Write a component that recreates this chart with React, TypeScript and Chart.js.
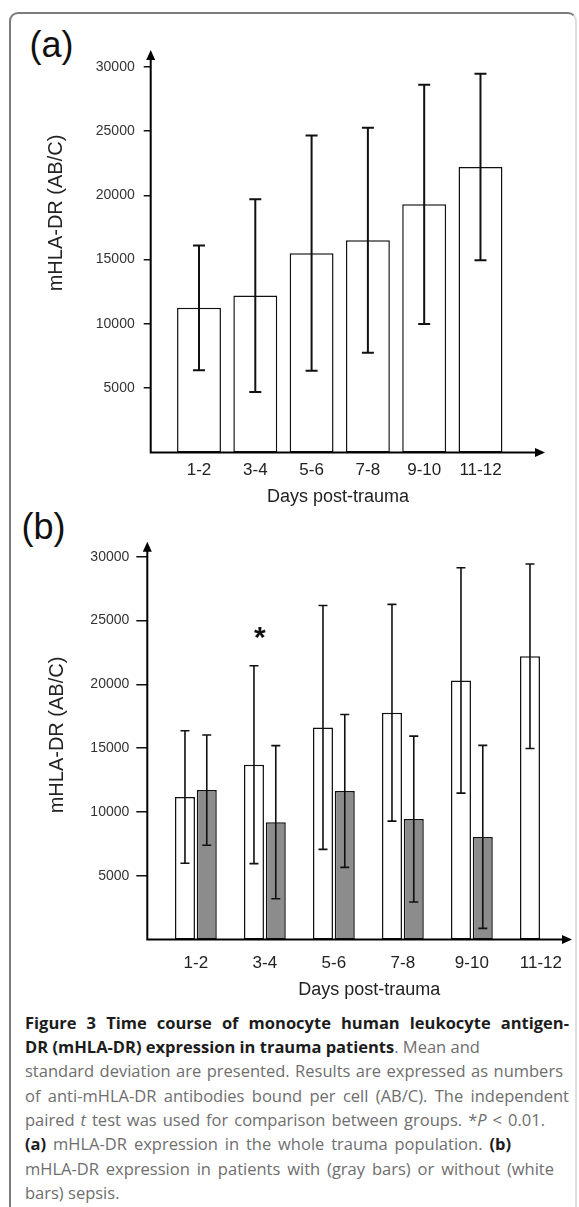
import React, { useEffect, useRef } from 'react';
import { Chart, registerables } from 'chart.js';

Chart.register(...registerables);

// ---------- data ----------
const categories = ['1-2', '3-4', '5-6', '7-8', '9-10', '11-12'];
// (a) whole trauma population: mean and SD
const allMean = [11250, 12200, 15500, 16500, 19300, 22200];
const allSd = [4850, 7500, 9150, 8750, 9300, 7250];
// (b) patients without sepsis (white bars)
const noSepsisMean = [11170, 13700, 16620, 17770, 20300, 22200];
const noSepsisSd = [5190, 7750, 9560, 8490, 8830, 7230];
// (b) patients with sepsis (gray bars)
const sepsisMean = [11710, 9190, 11640, 9440, 8040, null];
const sepsisSd = [4320, 6000, 5990, 6500, 7170, null];
// *P < 0.01 markers
const significant = [false, true, false, false, false, false];
const yTickValues = [5000, 10000, 15000, 20000, 25000, 30000];
const xTitle = 'Days post-trauma';
const yTitle = 'mHLA-DR (AB/C)';

const SANS = '"Liberation Sans", Arial, Helvetica, sans-serif';
const CAPTION_FONT = '"Open Sans", "Noto Sans", sans-serif';

const decor = {
  id: 'decor',
  afterDatasetsDraw(chart: any, _args: any, o: any) {
    const ctx = chart.ctx;
    const { left, right, top, bottom } = chart.chartArea;
    const ys = chart.scales.y;
    const xs = chart.scales.x;
    ctx.save();
    // error bars (mean ± SD)
    const tops: number[] = [];
    chart.data.datasets.forEach((ds: any, di: number) => {
      const meta = chart.getDatasetMeta(di);
      meta.data.forEach((bar: any, i: number) => {
        const m = ds.data[i].y;
        const s = ds.sd[i];
        if (m == null || s == null) return;
        const x = bar.x;
        const yHi = ys.getPixelForValue(m + s);
        const yLo = ys.getPixelForValue(m - s);
        tops[i] = tops[i] == null ? yHi : Math.min(tops[i], yHi);
        ctx.strokeStyle = '#111';
        ctx.lineWidth = o.errWidth;
        ctx.beginPath();
        ctx.moveTo(x, yHi);
        ctx.lineTo(x, yLo);
        ctx.moveTo(x - o.cap / 2, yHi);
        ctx.lineTo(x + o.cap / 2, yHi);
        ctx.moveTo(x - o.cap / 2, yLo);
        ctx.lineTo(x + o.cap / 2, yLo);
        ctx.stroke();
      });
    });
    // axes with arrowheads
    const ah = 10;
    const aw = 4.5;
    ctx.strokeStyle = '#000';
    ctx.fillStyle = '#000';
    ctx.lineWidth = 2;
    ctx.beginPath();
    ctx.moveTo(left - 1, bottom);
    ctx.lineTo(right - ah + 1, bottom);
    ctx.moveTo(left, bottom);
    ctx.lineTo(left, top + ah - 1);
    ctx.stroke();
    ctx.beginPath();
    ctx.moveTo(right, bottom);
    ctx.lineTo(right - ah, bottom - aw);
    ctx.lineTo(right - ah, bottom + aw);
    ctx.closePath();
    ctx.fill();
    ctx.beginPath();
    ctx.moveTo(left, top);
    ctx.lineTo(left - aw, top + ah);
    ctx.lineTo(left + aw, top + ah);
    ctx.closePath();
    ctx.fill();
    // significance marks
    if (o.marks) {
      ctx.fillStyle = '#111';
      ctx.font = `bold 30px ${SANS}`;
      ctx.textAlign = 'center';
      ctx.textBaseline = 'alphabetic';
      o.marks.forEach((flag: boolean, i: number) => {
        if (!flag || tops[i] == null) return;
        ctx.fillText('*', xs.getPixelForValue(i) + o.markDx, tops[i] - o.markGap);
      });
    }
    // axis titles
    ctx.fillStyle = '#222';
    ctx.textAlign = 'center';
    ctx.textBaseline = 'middle';
    ctx.font = `18px ${SANS}`;
    ctx.fillText(xTitle, o.xTitleX, o.xTitleY);
    ctx.translate(o.yTitleX, o.yTitleY);
    ctx.rotate(-Math.PI / 2);
    ctx.font = `20px ${SANS}`;
    ctx.fillText(yTitle, 0, 0);
    ctx.restore();
  },
};

function makeScales(p: any) {
  return {
    x: {
      type: 'linear',
      min: p.xMin,
      max: p.xMax,
      offset: false,
      bounds: 'data',
      grid: { display: false, drawTicks: false, offset: false },
      border: { display: false },
      afterBuildTicks: (s: any) => {
        s.ticks = categories.map((_, i) => ({ value: i }));
      },
      afterFit: (s: any) => {
        s.height = p.xHeight;
      },
      ticks: {
        padding: p.xPad,
        autoSkip: false,
        maxRotation: 0,
        minRotation: 0,
        color: '#222',
        font: { family: SANS, size: 17 },
        callback: (v: number) => categories[v] ?? '',
      },
    },
    y: {
      type: 'linear',
      min: 0,
      max: p.yMax,
      bounds: 'data',
      grid: {
        display: true,
        drawOnChartArea: false,
        drawTicks: true,
        tickLength: p.tickLen,
        color: '#111',
        lineWidth: 1.5,
      },
      border: { display: false },
      afterBuildTicks: (s: any) => {
        s.ticks = yTickValues.map((value) => ({ value }));
      },
      afterFit: (s: any) => {
        s.width = p.yWidth;
      },
      ticks: {
        padding: p.yPad,
        color: '#333',
        font: { family: SANS, size: 14 },
        callback: (v: number) => String(v),
      },
    },
  };
}

function configA() {
  return {
    type: 'bar',
    data: {
      datasets: [
        {
          label: 'All patients',
          data: allMean.map((y, x) => ({ x, y })),
          sd: allSd,
          backgroundColor: '#ffffff',
          borderColor: '#111',
          borderWidth: 1.5,
          borderSkipped: false,
          categoryPercentage: 1,
          barPercentage: 0.78,
        },
      ],
    },
    options: {
      animation: false,
      responsive: false,
      events: [],
      layout: { padding: { left: 0, top: 50, right: 34, bottom: 0 } },
      plugins: {
        legend: { display: false },
        tooltip: { enabled: false },
        decor: {
          errWidth: 2,
          cap: 12,
          xTitleX: 338,
          xTitleY: 497,
          yTitleX: 56.5,
          yTitleY: 213,
        },
      },
      scales: makeScales({
        xMin: -0.858,
        xMax: 6.146,
        xHeight: 62.5,
        xPad: 7.3,
        yMax: 31300,
        tickLen: 7,
        yWidth: 150.7,
        yPad: 9,
      }),
    },
    plugins: [decor],
  };
}

function configB() {
  return {
    type: 'bar',
    data: {
      datasets: [
        {
          label: 'Without sepsis',
          data: noSepsisMean.map((y, x) => ({ x, y })),
          sd: noSepsisSd,
          backgroundColor: '#ffffff',
          borderColor: '#111',
          borderWidth: 1.5,
          borderSkipped: false,
          categoryPercentage: 0.632,
          barPercentage: 0.917,
        },
        {
          label: 'With sepsis',
          data: sepsisMean.map((y, x) => ({ x, y })),
          sd: sepsisSd,
          backgroundColor: '#8c8c8c',
          borderColor: '#111',
          borderWidth: 1.5,
          borderSkipped: false,
          categoryPercentage: 0.632,
          barPercentage: 0.917,
        },
      ],
    },
    options: {
      animation: false,
      responsive: false,
      events: [],
      layout: { padding: { left: 0, top: 26.7, right: 7, bottom: 0 } },
      plugins: {
        legend: { display: false },
        tooltip: { enabled: false },
        decor: {
          errWidth: 1.6,
          cap: 9,
          xTitleX: 369.3,
          xTitleY: 475,
          yTitleX: 57,
          yTitleY: 220,
          marks: significant,
          markDx: -5,
          markGap: 19,
        },
      },
      scales: makeScales({
        xMin: -0.704,
        xMax: 5.451,
        xHeight: 65.5,
        xPad: 13.3,
        yMax: 31175,
        tickLen: 11,
        yWidth: 147.3,
        yPad: 7,
      }),
    },
    plugins: [decor],
  };
}

function ChartCanvas({ make, top, height }: { make: () => any; top: number; height: number }) {
  const ref = useRef<HTMLCanvasElement>(null);
  useEffect(() => {
    const chart = new Chart(ref.current as HTMLCanvasElement, make());
    return () => chart.destroy();
  }, []);
  return (
    <canvas
      ref={ref}
      width={579}
      height={height}
      style={{ position: 'absolute', left: 0, top, width: 579, height, display: 'block' }}
    />
  );
}

type Seg = { t: string; b?: boolean; i?: boolean };
const captionLines: { segs: Seg[]; w?: number }[] = [
  { segs: [{ t: 'Figure 3 Time course of monocyte human leukocyte antigen-', b: true }], w: 544 },
  { segs: [{ t: 'DR (mHLA-DR) expression in trauma patients', b: true }, { t: '. Mean and' }] },
  { segs: [{ t: 'standard deviation are presented. Results are expressed as numbers' }], w: 538 },
  { segs: [{ t: 'of anti-mHLA-DR antibodies bound per cell (AB/C). The independent' }], w: 544 },
  { segs: [{ t: 'paired ' }, { t: 't', i: true }, { t: ' test was used for comparison between groups. *' }, { t: 'P', i: true }, { t: ' < 0.01.' }], w: 520 },
  { segs: [{ t: '(a)', b: true }, { t: ' mHLA-DR expression in the whole trauma population. ' }, { t: '(b)', b: true }], w: 486 },
  { segs: [{ t: 'mHLA-DR expression in patients with (gray bars) or without (white' }], w: 529 },
  { segs: [{ t: 'bars) sepsis.' }] },
];

function Caption() {
  return (
    <div style={{ position: 'absolute', left: 25, top: 1010.5, fontFamily: CAPTION_FONT, fontSize: 16.5, color: '#6e6e6e' }}>
      {captionLines.map((line, k) => (
        <div
          key={k}
          style={{
            height: 24.4,
            lineHeight: '24.4px',
            whiteSpace: 'nowrap',
            width: line.w ?? undefined,
            textAlign: line.w ? 'justify' : 'left',
            textAlignLast: line.w ? 'justify' : 'left',
          } as any}
        >
          {line.segs.map((s, j) => (
            <span
              key={j}
              style={{
                fontWeight: s.b ? 700 : 400,
                fontStyle: s.i ? 'italic' : 'normal',
                color: s.b ? '#1c1c1c' : undefined,
              }}
            >
              {s.t}
            </span>
          ))}
        </div>
      ))}
    </div>
  );
}

export default function App() {
  return (
    <div
      style={{
        position: 'absolute',
        left: 0,
        top: 0,
        width: 579,
        height: 1207,
        overflow: 'hidden',
        background: '#ffffff',
      }}
    >
      <div
        style={{
          position: 'absolute',
          left: 9,
          top: 12,
          width: 564,
          height: 1230,
          border: '2px solid #7c7c7c',
          borderRightColor: '#dedede',
          borderRadius: 9,
        }}
      />
      <div style={{ position: 'absolute', left: 29.5, top: 27, fontFamily: SANS, fontSize: 36, lineHeight: '36px', color: '#111' }}>
        (a)
      </div>
      <div style={{ position: 'absolute', left: 21.5, top: 509, fontFamily: SANS, fontSize: 36, lineHeight: '36px', color: '#111' }}>
        (b)
      </div>
      <ChartCanvas make={configA} top={0} height={515} />
      <ChartCanvas make={configB} top={515} height={490} />
      <Caption />
    </div>
  );
}
